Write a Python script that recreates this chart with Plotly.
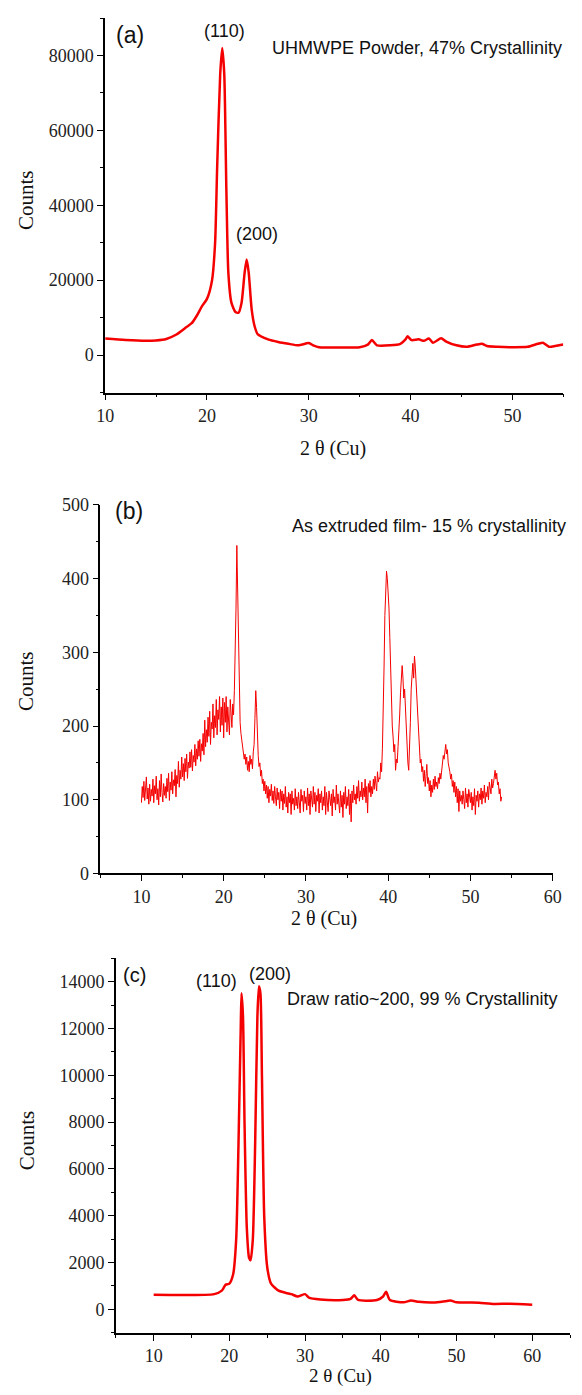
import plotly.graph_objects as go

# ---- data ----
# (a) UHMWPE powder
a_theta = [10, 12, 14, 15, 16, 17, 18, 18.5, 19, 19.5, 20, 20.5, 20.8, 21, 21.3, 21.5,
           21.7, 21.9, 22.1, 22.4, 22.8, 23.1, 23.4, 23.7, 23.9, 24.1, 24.4, 24.7, 25,
           26, 27, 28, 29, 30, 30.5, 31, 33, 35, 35.8, 36.2, 36.7, 38, 39, 39.5, 39.7,
           40.1, 40.8, 41.3, 41.8, 42.2, 43, 43.5, 44.5, 45.5, 46.5, 47, 47.5, 48.5,
           50, 51.5, 52.5, 53, 53.6, 54.2, 55]
a_counts = [4400, 4000, 3800, 3900, 4300, 5500, 7500, 8500, 10500, 13000, 15000, 20000,
            30000, 50000, 75000, 82000, 75000, 45000, 22000, 14000, 11500, 11300, 14000,
            22000, 25500, 22000, 12000, 7500, 5500, 4200, 3500, 3000, 2600, 3200, 2500,
            2100, 2000, 2100, 2800, 4000, 2600, 2600, 3000, 4200, 5000, 4000, 4200, 3800,
            4400, 3300, 4500, 3600, 2600, 2200, 2800, 3000, 2400, 2200, 2100, 2200, 3000,
            3300, 2200, 2400, 2800]

# (b) as extruded film, scan start 10.0 deg, step 0.1 deg (one row per degree)
b_start = 10.0
b_step = 0.1
b_counts = [
    96, 118, 103, 125, 99, 112, 131, 101, 116, 94,        # 10
    121, 98, 114, 105, 128, 96, 119, 108, 132, 100,       # 11
    115, 93, 126, 104, 135, 110, 97, 122, 106, 118,       # 12
    102, 129, 111, 136, 99, 124, 113, 138, 108, 127,      # 13
    119, 141, 104, 133, 122, 152, 117, 140, 128, 158,     # 14
    131, 149, 126, 156, 138, 162, 129, 151, 143, 165,     # 15
    144, 168, 139, 160, 151, 175, 146, 169, 155, 180,     # 16
    159, 182, 152, 176, 166, 190, 161, 208, 172, 195,     # 17
    178, 212, 186, 220, 175, 205, 196, 230, 184, 214,     # 18
    198, 236, 188, 222, 209, 240, 192, 226, 201, 238,     # 19
    184, 232, 205, 240, 192, 226, 210, 188, 236, 214,     # 20
    198, 230, 215, 248, 290, 360, 445, 380, 290, 220,     # 21
    205, 190, 182, 175, 168, 155, 162, 148, 158, 140,     # 22
    152, 138, 160, 148, 155, 142, 165, 175, 210, 248,     # 23
    225, 180, 160, 145, 150, 132, 140, 122, 128, 112,     # 24
    125, 108, 120, 102, 118, 96, 114, 105, 121, 99,       # 25
    112, 95, 118, 104, 92, 116, 100, 110, 88, 114,        # 26
    98, 112, 86, 108, 95, 118, 90, 104, 82, 110,          # 27
    96, 108, 80, 112, 94, 102, 86, 115, 92, 104,          # 28
    88, 110, 96, 82, 114, 98, 106, 84, 112, 95,           # 29
    104, 86, 116, 92, 108, 80, 112, 98, 90, 118,          # 30
    94, 110, 84, 106, 98, 115, 82, 108, 96, 112,          # 31
    86, 104, 92, 118, 80, 110, 96, 84, 112, 100,          # 32
    92, 108, 78, 114, 96, 104, 86, 120, 94, 108,          # 33
    98, 82, 112, 90, 106, 76, 110, 94, 118, 88,           # 34
    104, 92, 114, 80, 108, 70, 112, 96, 120, 100,         # 35
    108, 94, 118, 102, 126, 98, 112, 104, 124, 100,       # 36
    116, 104, 128, 96, 118, 82, 122, 110, 126, 104,       # 37
    118, 108, 128, 114, 132, 120, 112, 138, 124, 130,     # 38
    128, 150, 138, 170, 215, 280, 350, 395, 410, 400,     # 39
    385, 360, 320, 270, 225, 200, 185, 165, 175, 140,     # 40
    155, 150, 172, 190, 215, 245, 270, 282, 265, 238,     # 41
    250, 220, 195, 170, 150, 140, 165, 205, 250, 270,     # 42
    285, 265, 295, 280, 255, 230, 205, 180, 165, 150,     # 43
    155, 138, 145, 125, 140, 118, 132, 148, 122, 130,     # 44
    112, 126, 104, 120, 110, 128, 114, 132, 118, 124,     # 45
    115, 130, 122, 136, 128, 140, 148, 160, 155, 170,     # 46
    175, 162, 168, 150, 145, 138, 128, 135, 118, 126,     # 47
    110, 124, 104, 118, 96, 115, 84, 112, 98, 106,        # 48
    94, 112, 100, 88, 116, 96, 108, 90, 114, 102,         # 49
    96, 110, 86, 104, 92, 115, 80, 106, 98, 112,          # 50
    90, 108, 100, 116, 94, 112, 102, 120, 96, 110,        # 51
    104, 118, 100, 124, 112, 108, 128, 116, 122, 132,     # 52
    140, 128, 136, 120, 124, 108, 115, 98, 104,           # 53
]
b_theta = [round(b_start + b_step * i, 1) for i in range(len(b_counts))]

# (c) draw ratio ~200
c_theta = [10, 18, 19, 19.5, 20, 20.5, 20.9, 21.2, 21.5, 21.6, 21.8, 22.0, 22.3, 22.6,
           22.8, 23.1, 23.4, 23.7, 23.9, 24.1, 24.3, 24.6, 25, 25.5, 26.5, 27.5, 28.2,
           29, 30, 30.5, 32, 35, 36, 36.5, 37, 39.5, 40.3, 40.7, 41.2, 43, 44, 45, 47,
           48.5, 49.2, 50, 52, 53, 55, 57, 60]
c_counts = [620, 650, 800, 1050, 1100, 1500, 3000, 7000, 12000, 13500, 12500, 8000, 3500,
            2200, 2100, 3000, 7000, 12500, 13800, 13500, 10000, 4000, 1800, 1100, 800,
            700, 650, 550, 650, 500, 420, 400, 450, 600, 400, 400, 550, 750, 400, 300,
            380, 320, 290, 350, 380, 300, 290, 280, 230, 240, 200]

# the page body keeps its default 8px margin, so the figure is drawn 8px in
# from the window edge; size it to fit and place things in window pixels
PAGE_PAD = 8
W, H = 582 - PAGE_PAD, 1395 - PAGE_PAD
RED = 'rgb(245,0,0)'
SERIF = 'Liberation Serif'
SANS = 'Liberation Sans'


def px(x):
    return (x - PAGE_PAD) / W


def py(y):
    return 1 - (y - PAGE_PAD) / H


fig = go.Figure()
fig.add_trace(go.Scatter(x=a_theta, y=a_counts, mode='lines',
                         line=dict(color=RED, width=2.5, shape='spline', smoothing=0.6),
                         xaxis='x', yaxis='y', showlegend=False))
fig.add_trace(go.Scatter(x=b_theta, y=b_counts, mode='lines', line=dict(color=RED, width=1),
                         xaxis='x2', yaxis='y2', showlegend=False))
fig.add_trace(go.Scatter(x=c_theta, y=c_counts, mode='lines',
                         line=dict(color=RED, width=2.5, shape='spline', smoothing=0.6),
                         xaxis='x3', yaxis='y3', showlegend=False))

tickfont = dict(family=SERIF, size=18, color='#222')


def axis(domain, rng, dtick, minor, anchor):
    return dict(domain=domain, range=rng, dtick=dtick, tick0=0, anchor=anchor, tickformat='d',
                showline=True, linecolor='black', linewidth=1.5, showgrid=False, zeroline=False,
                ticks='outside', ticklen=6, tickwidth=1.3, tickcolor='black', tickfont=tickfont,
                minor=dict(dtick=minor, ticks='outside', ticklen=3, tickwidth=1.2,
                           tickcolor='black', showgrid=False))


fig.update_layout(
    width=W, height=H, margin=dict(l=0, r=0, t=0, b=0),
    paper_bgcolor='white', plot_bgcolor='white',
    xaxis=axis([px(99), px(572)], [10, 55], 10, 5, 'y'),
    yaxis=axis([py(388), py(8)], [-10000, 90000], 20000, 10000, 'x'),
    xaxis2=axis([px(94), px(561)], [5, 60], 10, 5, 'y2'),
    yaxis2=axis([py(876), py(502)], [0, 500], 100, 50, 'x2'),
    xaxis3=axis([px(110), px(579)], [5, 65], 10, 5, 'y3'),
    yaxis3=axis([py(1342), py(962)], [-1000, 15000], 2000, 1000, 'x3'),
)


def note(text, x, y, size, family, xanchor='center', angle=0):
    fig.add_annotation(text=text, x=px(x), y=py(y), xref='paper', yref='paper', showarrow=False,
                       xanchor=xanchor, yanchor='middle', textangle=angle,
                       font=dict(family=family, size=size, color='#111'))


# panel (a)
note('(a)', 125, 25, 23, SANS)
note('(110)', 222, 21, 18, SANS)
note('(200)', 256, 227, 18, SANS)
note('UHMWPE Powder, 47% Crystallinity', 573, 38, 18, SANS, xanchor='right')
note('Counts', 18, 193, 21, SERIF, angle=-90)
note('2 θ (Cu)', 334, 445, 20, SERIF)

# panel (b)
note('(b)', 124, 508, 23, SANS)
note('As extruded film- 15 % crystallinity', 577, 523, 18, SANS, xanchor='right')
note('Counts', 18, 681, 21, SERIF, angle=-90)
note('2 θ (Cu)', 325, 922, 20, SERIF)

# panel (c)
note('(c)', 129, 979, 20, SANS)
note('(110)', 214, 985, 18, SANS)
note('(200)', 269, 978, 18, SANS)
note('Draw ratio~200, 99 % Crystallinity', 569, 1003, 18, SANS, xanchor='right')
note('Counts', 18, 1147, 21, SERIF, angle=-90)
note('2 θ (Cu)', 342, 1386, 19, SERIF)

fig.write_html("out.html")
